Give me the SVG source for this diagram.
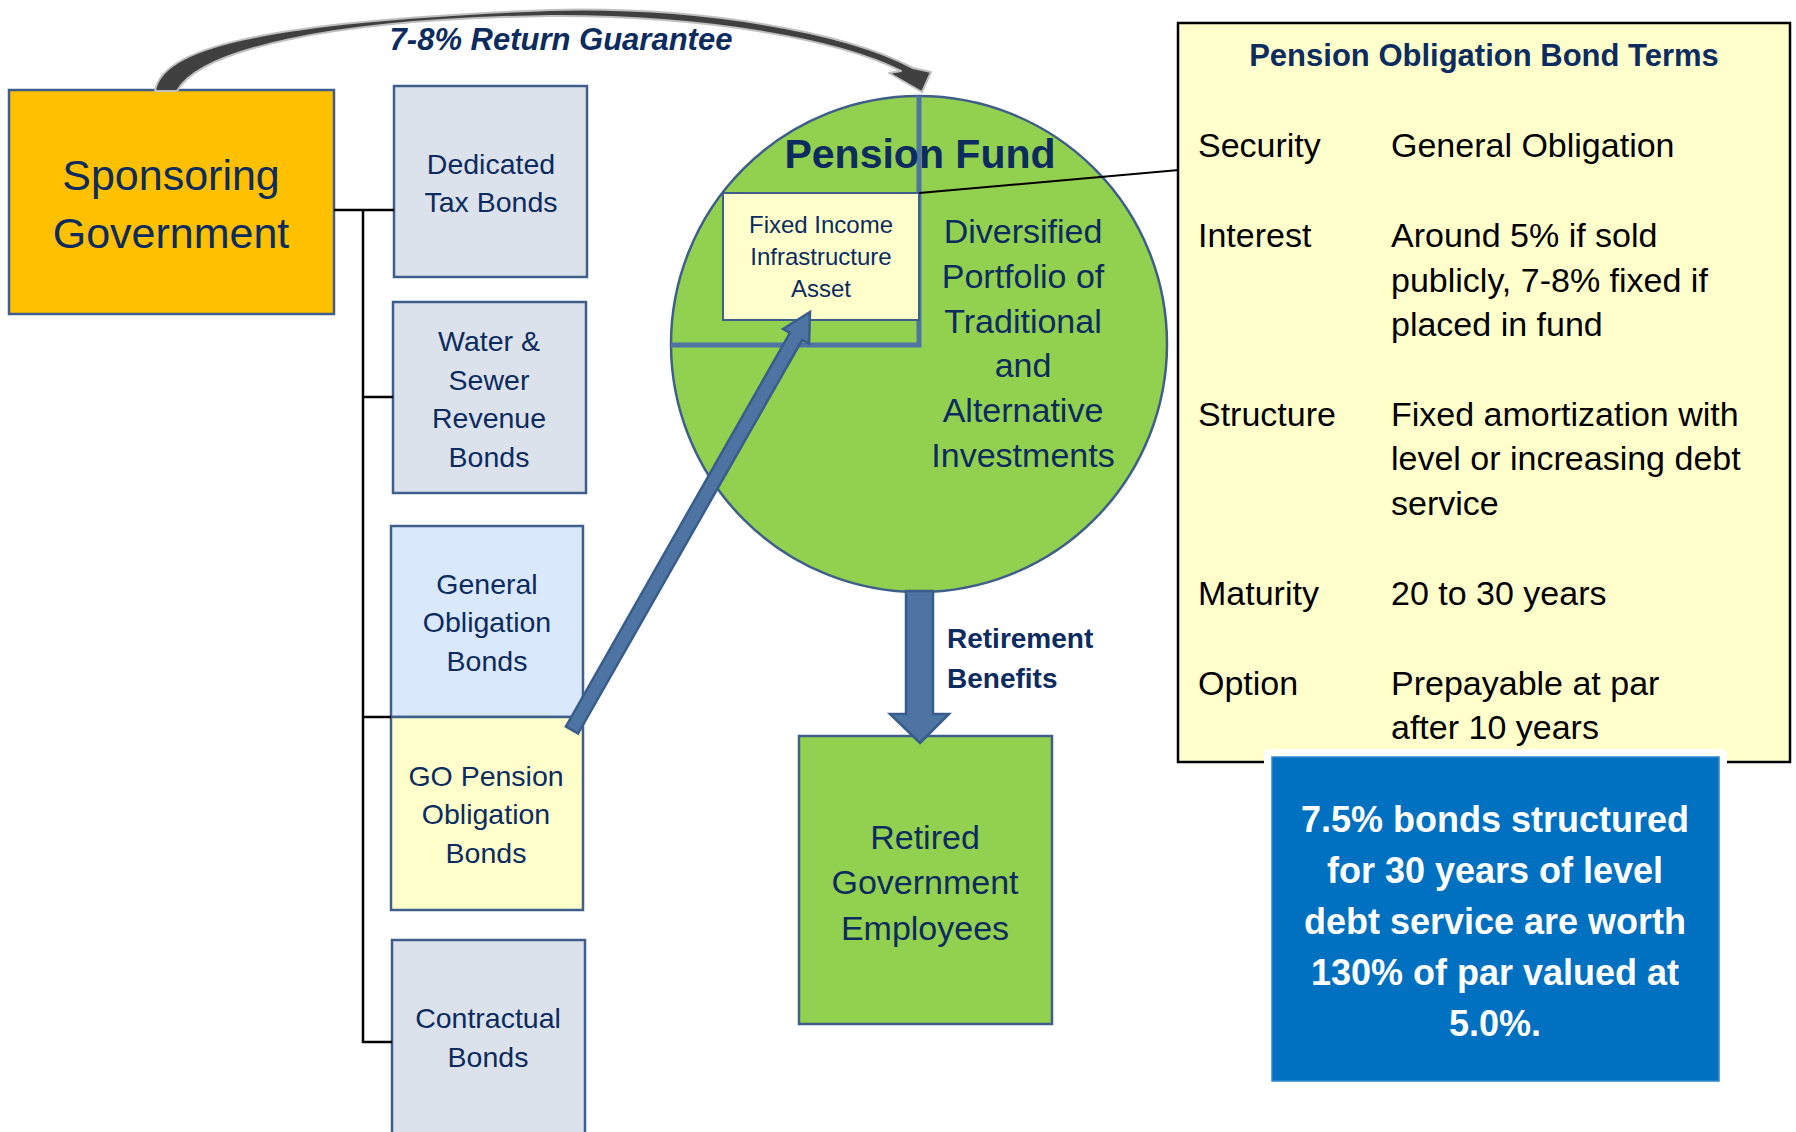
<svg xmlns="http://www.w3.org/2000/svg" width="1796" height="1132" viewBox="0 0 1796 1132">
<defs>
<style>
text{font-family:"Liberation Sans",Arial,sans-serif;fill:#0C2B5E}
.c{text-anchor:middle}
.box{stroke:#3F5F8A;stroke-width:2.5}
.bond{font-size:28.5px}
.b{font-weight:bold}
.term{font-size:34px;fill:#000}
.wt{fill:#fff;font-weight:bold;font-size:36px;text-anchor:middle}
.tree{stroke:#000;stroke-width:2.5;fill:none}
.blue{fill:#4E74A4;stroke:#385D8A;stroke-width:2.5}
</style>
</defs>
<rect width="1796" height="1132" fill="#fff"/>

<g id="sponsoring-government">
<rect class="box" x="9" y="90" width="325" height="224" fill="#FFC000"/>
<text class="c" x="171" y="190" font-size="43">Sponsoring</text>
<text class="c" x="171" y="248" font-size="43">Government</text>
</g>

<g id="dedicated-tax-bonds">
<rect class="box" x="394" y="86" width="193" height="191" fill="#DCE2EC"/>
<text class="c bond" x="491" y="174">Dedicated</text>
<text class="c bond" x="491" y="212">Tax Bonds</text>
</g>

<g id="water-sewer-bonds">
<rect class="box" x="393" y="302" width="193" height="191" fill="#DCE2EC"/>
<text class="c bond" x="489" y="351">Water &amp;</text>
<text class="c bond" x="489" y="390">Sewer</text>
<text class="c bond" x="489" y="428">Revenue</text>
<text class="c bond" x="489" y="467">Bonds</text>
</g>

<g id="general-obligation-bonds">
<rect class="box" x="391" y="526" width="192" height="191" fill="#D9E8FB"/>
<text class="c bond" x="487" y="594">General</text>
<text class="c bond" x="487" y="632">Obligation</text>
<text class="c bond" x="487" y="671">Bonds</text>
</g>

<g id="go-pension-obligation-bonds">
<rect class="box" x="391" y="717" width="192" height="193" fill="#FFFFCC"/>
<text class="c bond" x="486" y="786">GO Pension</text>
<text class="c bond" x="486" y="824">Obligation</text>
<text class="c bond" x="486" y="863">Bonds</text>
</g>

<g id="contractual-bonds">
<rect class="box" x="392" y="940" width="193" height="200" fill="#DCE2EC"/>
<text class="c bond" x="488" y="1028">Contractual</text>
<text class="c bond" x="488" y="1067">Bonds</text>
</g>

<g id="pension-fund">
<circle cx="919" cy="344" r="248" fill="#92D050" stroke="#3F5F8A" stroke-width="2.5"/>
<path d="M919 96 V345 H671" fill="none" stroke="#4E74A4" stroke-width="5"/>
<text class="c b" x="920" y="168" font-size="41">Pension Fund</text>
<text class="c" x="1023" y="243" font-size="34">Diversified</text>
<text class="c" x="1023" y="288" font-size="34">Portfolio of</text>
<text class="c" x="1023" y="333" font-size="34">Traditional</text>
<text class="c" x="1023" y="377" font-size="34">and</text>
<text class="c" x="1023" y="422" font-size="34">Alternative</text>
<text class="c" x="1023" y="467" font-size="34">Investments</text>
</g>

<g id="fixed-income-asset">
<rect x="723" y="193" width="196" height="127" fill="#FFFFCC" stroke="#3F5F8A" stroke-width="2"/>
<text class="c" x="821" y="233" font-size="24">Fixed Income</text>
<text class="c" x="821" y="265" font-size="24">Infrastructure</text>
<text class="c" x="821" y="297" font-size="24">Asset</text>
</g>

<g id="retired-employees">
<rect class="box" x="799" y="736" width="253" height="288" fill="#92D050"/>
<text class="c" x="925" y="849" font-size="34">Retired</text>
<text class="c" x="925" y="894" font-size="34">Government</text>
<text class="c" x="925" y="940" font-size="34">Employees</text>
</g>

<g id="bond-terms">
<rect x="1178" y="23" width="612" height="739" fill="#FFFFCC" stroke="#000" stroke-width="2.5"/>
<text class="c b" x="1484" y="66" font-size="31">Pension Obligation Bond Terms</text>
<text class="term" x="1198" y="157">Security</text>
<text class="term" x="1391" y="157">General Obligation</text>
<text class="term" x="1198" y="247">Interest</text>
<text class="term" x="1391" y="247">Around 5% if sold</text>
<text class="term" x="1391" y="292">publicly, 7-8% fixed if</text>
<text class="term" x="1391" y="336">placed in fund</text>
<text class="term" x="1198" y="426">Structure</text>
<text class="term" x="1391" y="426">Fixed amortization with</text>
<text class="term" x="1391" y="470">level or increasing debt</text>
<text class="term" x="1391" y="515">service</text>
<text class="term" x="1198" y="605">Maturity</text>
<text class="term" x="1391" y="605">20 to 30 years</text>
<text class="term" x="1198" y="695">Option</text>
<text class="term" x="1391" y="695">Prepayable at par</text>
<text class="term" x="1391" y="739">after 10 years</text>
</g>

<g id="valuation-note">
<rect x="1264" y="749" width="463" height="340" rx="5" fill="#fff"/>
<rect x="1272" y="757" width="447" height="324" fill="#0070C0" stroke="#2F86CF" stroke-width="1.5"/>
<text class="wt" x="1495" y="832">7.5% bonds structured</text>
<text class="wt" x="1495" y="883">for 30 years of level</text>
<text class="wt" x="1495" y="934">debt service are worth</text>
<text class="wt" x="1495" y="985">130% of par valued at</text>
<text class="wt" x="1495" y="1036">5.0%.</text>
</g>

<g id="connectors">
<path class="tree" d="M334 210 H394 M363 210 V1042 H392 M363 397 H393 M363 717 H391"/>
<line x1="919" y1="193" x2="1179" y2="170" stroke="#000" stroke-width="2"/>
<path d="M155 91 C162 50 250 22 550 10 C700 6 845 32 913 68 L931 72 L922 92 L889 73 L901 71 C840 40 705 15 550 16 C330 19 200 50 177 91 Z" fill="#404040" stroke="#BFBFBF" stroke-width="2" stroke-linejoin="round"/>
<text class="b" x="561" y="50" font-size="31" font-style="italic" text-anchor="middle" style="fill:#0C2B5E">7-8% Return Guarantee</text>
<polygon class="blue" points="578.1,733.5 802.2,339.8 809.1,343.7 810,312 783.1,328.9 790,332.8 565.9,726.5"/>
<polygon class="blue" points="906,591 933,591 933,714 949,714 920,743 890,714 906,714"/>
<text class="b" x="947" y="648" font-size="28">Retirement</text>
<text class="b" x="947" y="688" font-size="28">Benefits</text>
</g>
</svg>
